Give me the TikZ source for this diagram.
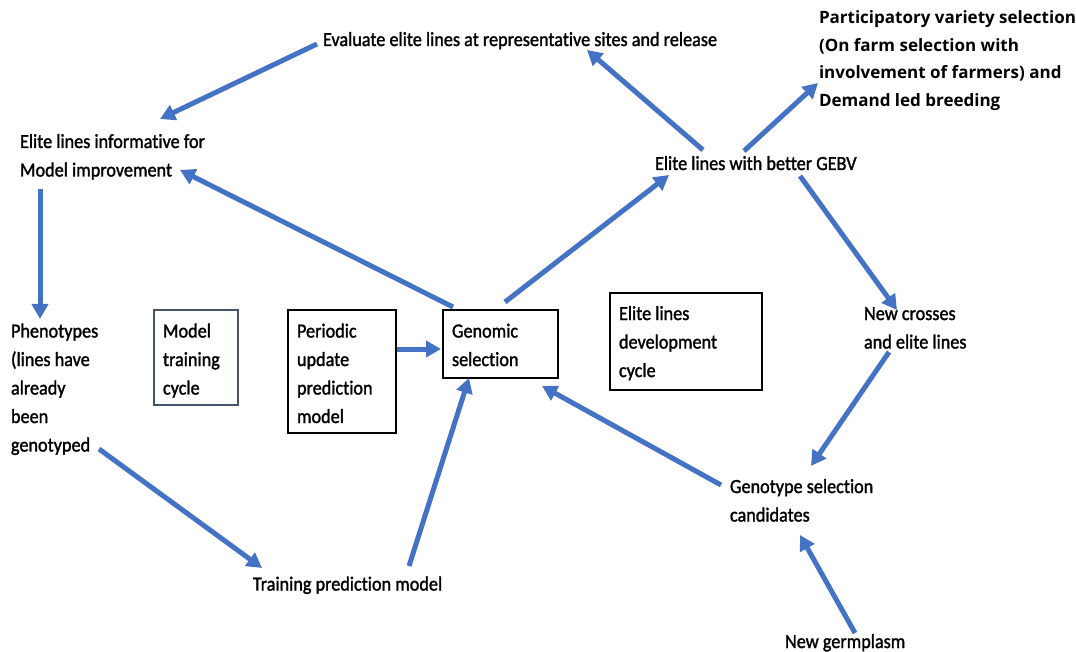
\documentclass[tikz,border=0pt]{standalone}
\usepackage{fontspec}
\setmainfont{Carlito}[Ligatures=NoCommon, FakeBold=1.6]
\newfontfamily\osans{Open Sans}
\usepackage{graphicx}
\usetikzlibrary{arrows.meta}
\definecolor{arrblue}{HTML}{4472C4}
\definecolor{slateb}{HTML}{44546A}
\newcommand{\tx}[1]{\scalebox{0.91}[1]{\begin{tabular}[t]{@{}l@{}}#1\end{tabular}}}
\newcommand{\ptx}[1]{\begin{tabular}[t]{@{}l@{}}#1\end{tabular}}
\tikzset{
  lbl/.style={anchor=base west, inner sep=0pt, outer sep=0pt, text=black,
    font=\fontsize{20}{28.5}\selectfont},
  plbl/.style={anchor=base west, inner sep=0pt, outer sep=0pt, text=black,
    font=\osans\bfseries\fontsize{17}{27.5}\selectfont},
  boxk/.style={draw=black, line width=2.5pt, anchor=north west, inner sep=0pt, outer sep=0pt, fill=none},
  boxs/.style={draw=slateb, line width=2pt, anchor=north west, inner sep=0pt, outer sep=0pt, fill=none},
  arr/.style={draw=arrblue, line width=5pt, -{Triangle[length=15pt,width=16pt]}, arrblue}
}
\begin{document}
\begin{tikzpicture}[x=1pt,y=-1pt]
\useasboundingbox (0,0) rectangle (1076,652);

% boxes
\node[boxs, minimum width=84, minimum height=95] (mt) at (154,310) {};
\node[boxk, minimum width=108, minimum height=123] (pu) at (288,310) {};
\node[boxk, minimum width=115, minimum height=68] (gs) at (443,310) {};
\node[boxk, minimum width=152, minimum height=97] (ed) at (610,293) {};

% texts
\node[lbl] (ev) at (323,46) {\tx{Evaluate elite lines at representative sites and release}};
\node[lbl] (eli) at (20,148) {\tx{Elite lines informative for\\Model improvement}};
\node[lbl] (ph) at (11,337.5) {\tx{Phenotypes\\(lines have\\already\\been\\genotyped}};
\node[lbl] (mtt) at (163,337.5) {\tx{Model\\training\\cycle}};
\node[lbl] (put) at (297,337.5) {\tx{Periodic\\update\\prediction\\model}};
\node[lbl] (gst) at (452,337.5) {\tx{Genomic\\selection}};
\node[lbl] (edt) at (619,320) {\tx{Elite lines\\development\\cycle}};
\node[lbl] (nc) at (864,320) {\tx{New crosses\\and elite lines}};
\node[lbl] (gc) at (730,493) {\tx{Genotype selection\\candidates}};
\node[lbl] (ng) at (785,648) {\tx{New germplasm}};
\node[lbl] (tp) at (253,590.5) {\tx{Training prediction model}};
\node[lbl] (gebv) at (655,170) {\tx{Elite lines with better GEBV}};
\node[plbl] (pvs) at (819,24) {\ptx{Participatory variety selection\\(On farm selection with\\involvement of farmers) and\\Demand led breeding}};

% connectors
\draw[arr] ([shift={(-6,-2)}]ev.base west) -- ([shift={(140,-29)}]eli.base west);
\draw[arr] ([shift={(10,-3)}]gs.north west) -- ([shift={(160,22)}]eli.base west);
\draw[arr] ([shift={(20,41)}]eli.base west) -- ([shift={(29,-18.5)}]ph.base west);
\draw[arr] ([shift={(62,-8)}]gs.north west) -- ([shift={(14,5)}]gebv.base west);
\draw[arr] ([shift={(48,-20)}]gebv.base west) -- ([shift={(264,4)}]ev.base west);
\draw[arr] ([shift={(89,-19)}]gebv.base west) -- ([shift={(-1,59)}]pvs.base west);
\draw[arr] ([shift={(145,6)}]gebv.base west) -- ([shift={(33,-10)}]nc.base west);
\draw[arr] ([shift={(25,32)}]nc.base west) -- ([shift={(81,-27)}]gc.base west);
\draw[arr] ([shift={(-9,-8)}]gc.base west) -- ([shift={(99,76)}]gs.north west);
\draw[arr] ([shift={(70,-15)}]ng.base west) -- ([shift={(70,42)}]gc.base west);
\draw[arr] ([shift={(88,111.5)}]ph.base west) -- ([shift={(9,-22.5)}]tp.base west);
\draw[arr] ([shift={(156,-24.5)}]tp.base west) -- ([shift={(26,68)}]gs.north west);
\draw[arr] ([shift={(109,39)}]pu.north west) -- ([shift={(-2,39)}]gs.north west);
\end{tikzpicture}
\end{document}
